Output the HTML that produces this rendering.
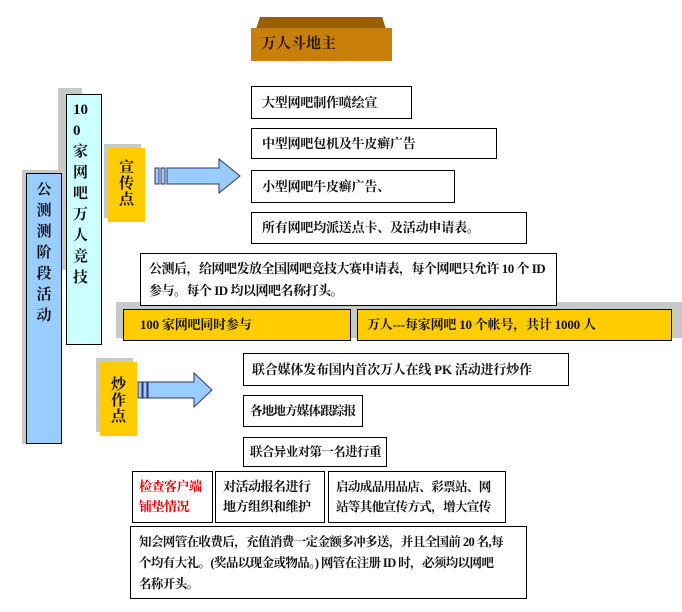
<!DOCTYPE html>
<html><head><meta charset="utf-8"><style>
body{margin:0;width:682px;height:612px;background:#fff;position:relative;overflow:hidden;font-family:"Liberation Serif","Noto Serif CJK SC","Noto Sans CJK SC",serif;font-weight:bold;color:#111}
div{position:absolute;box-sizing:border-box}
.b{border:1px solid #000;background:#fff;font-size:13px;padding-left:10px;line-height:30px;white-space:nowrap;letter-spacing:-0.2px}
.sh{background:#c8c8c8}
.v{text-align:center;font-size:15px;line-height:21px}
</style></head><body>
<div style="left:256px;top:17px;width:130px;height:12px;background:#9a5e06;clip-path:polygon(3% 0,97% 0,100% 100%,0 100%)"></div>
<div style="left:251px;top:28px;width:141px;height:33px;background:#c8800a;font-size:15px;line-height:33px;padding-left:10px;color:#2a1500">万人斗地主</div>

<div class="sh" style="left:58px;top:88px;width:24px;height:182px"></div>
<div class="sh" style="left:22px;top:170px;width:40px;height:274px"></div>
<div style="left:26px;top:173px;width:36px;height:271px;background:#99ccff;border:1px solid #000"></div>
<div class="v" style="left:26px;top:180px;width:36px">公<br>测<br>测<br>阶<br>段<br>活<br>动</div>
<div style="left:66px;top:94px;width:36px;height:251px;background:#ccffff;border:1px solid #000"></div>
<div class="v" style="top:100px;width:22px;left:73px;text-align:left">10<br>0<br>家<br>网<br>吧<br>万<br>人<br>竞<br>技</div>

<div class="sh" style="left:104px;top:144px;width:37px;height:74px"></div>
<div style="left:108px;top:148px;width:37px;height:74px;background:#ffcc00"></div>
<div class="v" style="left:108px;top:160px;width:37px;font-size:15px;line-height:16px">宣<br>传<br>点</div>
<svg style="position:absolute;left:154px;top:158px" width="90" height="36"><rect x="1" y="10" width="4" height="16" fill="#99ccff" stroke="#336" stroke-width="1"/><rect x="7" y="10" width="4" height="16" fill="#99ccff" stroke="#336"/><polygon points="13,10 65,10 65,1 86,18 65,35 65,26 13,26" fill="#99ccff" stroke="#336"/></svg>

<div class="b" style="left:251px;top:86px;width:161px;height:33px;line-height:31px">大型网吧制作喷绘宣</div>
<div class="b" style="left:251px;top:128px;width:246px;height:31px;line-height:29px">中型网吧包机及牛皮癣广告</div>
<div class="b" style="left:251px;top:170px;width:204px;height:33px;line-height:31px">小型网吧牛皮癣广告、</div>
<div class="b" style="left:251px;top:212px;width:276px;height:32px">所有网吧均派送点卡、及活动申请表。</div>

<div class="sh" style="left:116px;top:302px;width:566px;height:36px"></div>
<div class="b" style="left:140px;top:253px;width:417px;height:53px;line-height:22px;padding-top:4px;padding-left:8px;letter-spacing:-0.5px">公测后，给网吧发放全国网吧竞技大赛申请表，每个网吧只允许 10 个 ID<br>参与。每个 ID 均以网吧名称打头。</div>
<div class="b" style="left:123px;top:309px;width:228px;height:32px;background:#ffcc00;padding-left:16px">100 家网吧同时参与</div>
<div class="b" style="left:357px;top:309px;width:315px;height:32px;background:#ffcc00;padding-left:9px">万人---每家网吧 10 个帐号，共计 1000 人</div>

<div class="sh" style="left:96px;top:358px;width:37px;height:74px"></div>
<div style="left:100px;top:362px;width:37px;height:74px;background:#ffcc00"></div>
<div class="v" style="left:100px;top:377px;width:37px;font-size:15px;line-height:16px">炒<br>作<br>点</div>
<svg style="position:absolute;left:137px;top:372px" width="80" height="36"><rect x="1" y="10" width="4" height="16" fill="#99ccff" stroke="#336"/><rect x="6" y="10" width="4" height="16" fill="#99ccff" stroke="#336"/><polygon points="11,10 57,10 57,1 75,18 57,35 57,26 11,26" fill="#99ccff" stroke="#336"/></svg>

<div class="b" style="left:243px;top:353px;width:326px;height:33px;line-height:31px;padding-left:8px">联合媒体发布国内首次万人在线 PK 活动进行炒作</div>
<div class="b" style="left:243px;top:395px;width:120px;height:32px;padding-left:6px;letter-spacing:-0.8px;font-size:12.5px">各地地方媒体跟踪报</div>
<div class="b" style="left:243px;top:437px;width:144px;height:30px;line-height:28px;padding-left:6px;letter-spacing:-0.6px;font-size:12.5px">联合异业对第一名进行重</div>

<div class="b" style="left:132px;top:471px;width:81px;height:52px;line-height:20px;padding:5px 0 0 6px;color:#e00000;letter-spacing:-0.5px">检查客户端<br>铺垫情况</div>
<div class="b" style="left:215px;top:471px;width:110px;height:52px;line-height:20px;padding:5px 0 0 7px;letter-spacing:-0.5px">对活动报名进行<br>地方组织和维护</div>
<div class="b" style="left:328px;top:471px;width:178px;height:52px;line-height:20px;padding:5px 0 0 7px;letter-spacing:-0.6px;font-size:12.5px">启动成品用品店、彩票站、网<br>站等其他宣传方式，增大宣传</div>
<div class="b" style="left:130px;top:526px;width:397px;height:73px;line-height:21px;padding:5px 0 0 8px;font-size:12.5px;letter-spacing:-0.6px">知会网管在收费后，充值消费一定金额多冲多送，并且全国前 20 名,每<br>个均有大礼。(奖品以现金或物品。) 网管在注册 ID 时，必须均以网吧<br>名称开头。</div>
</body></html>
